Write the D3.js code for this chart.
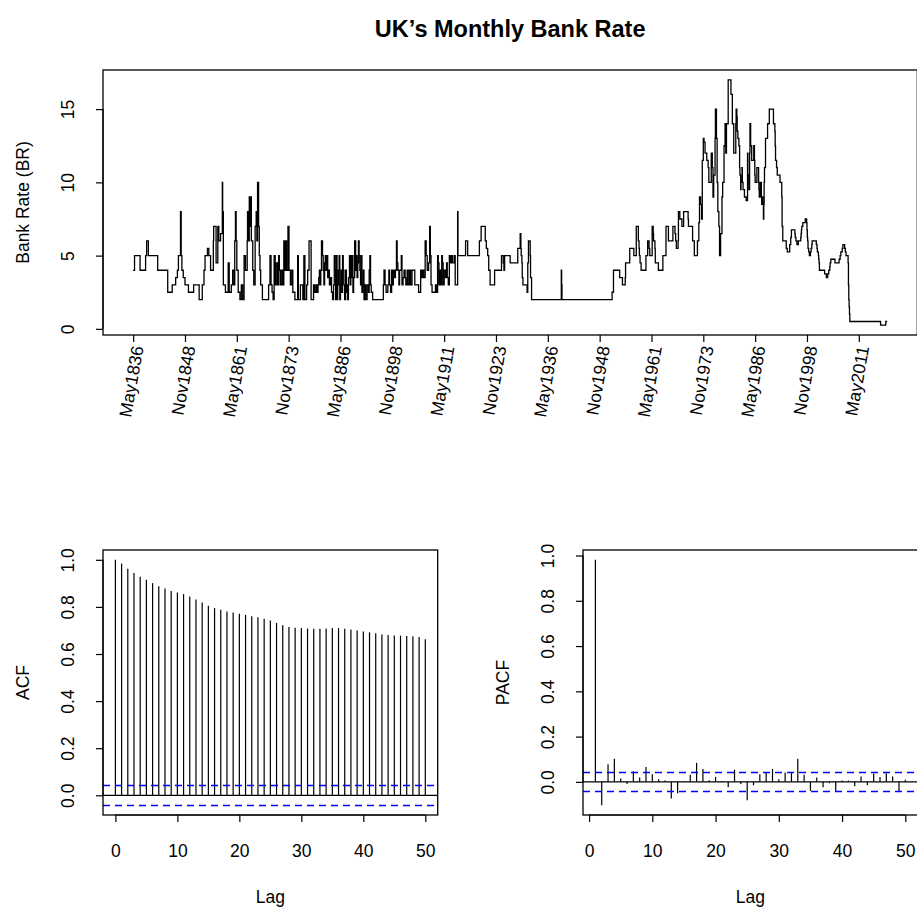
<!DOCTYPE html>
<html><head><meta charset="utf-8">
<script src="https://cdn.jsdelivr.net/npm/d3@7/dist/d3.min.js"></script>
<style>
body{margin:0;background:#fff}
svg{display:block}
text{font-family:"Liberation Sans",Arial,Helvetica,sans-serif;fill:#000}
</style></head>
<body><svg id="c" width="917" height="908"></svg>
<script>
// ---------------- data ----------------
const seriesStart = "1836-05";
const seriesEnd = "2018-03";
// bank-rate change points [month, rate %]
const rates1836to1878 = [
["1836-05",4],["1836-09",5],["1838-01",4],["1839-05",5],["1839-08",6],["1840-01",5],["1842-04",4],["1844-09",2.5],
["1845-10",3],["1846-08",3.5],["1847-01",4],["1847-04",5],["1847-10",8],["1847-12",5],["1848-02",4],["1848-06",3.5],
["1848-11",3],["1849-09",2.5],["1850-12",3],["1852-04",2],["1853-01",3],["1853-06",4],["1853-09",5],["1854-04",5.5],
["1854-08",5],["1855-01",4],["1855-09",6],["1855-10",7],["1856-05",4.5],["1856-10",7],["1857-01",6],["1857-06",6.5],
["1857-11",10],["1857-12",8],["1858-02",3],["1858-08",2.5],["1859-04",4.5],["1859-07",2.5],["1860-01",3],["1860-05",4],
["1860-09",3],["1860-11",6],["1861-01",8],["1861-03",6],["1861-05",4],["1861-09",2.5],["1862-02",2],["1862-06",3],
["1862-10",2],["1863-02",5],["1863-06",4],["1863-11",6],["1863-12",8],["1864-02",6],["1864-05",9],["1864-07",7],
["1864-09",9],["1864-11",6],["1865-03",4],["1865-06",3],["1865-10",7],["1866-01",8],["1866-03",6],["1866-05",10],
["1866-08",7],["1866-10",5],["1866-12",4],["1867-02",3],["1867-07",2],["1869-01",3],["1869-05",5],["1869-08",3],
["1869-11",2.5],["1870-02",2],["1870-05",5],["1870-08",3],["1870-11",4.5],["1871-03",3],["1871-06",5],["1871-08",4],
["1871-11",3],["1872-03",4],["1872-06",3],["1872-09",6],["1872-11",4],["1873-02",6],["1873-05",4],["1873-09",7],
["1873-12",4],["1874-04",3],["1874-08",4],["1874-11",2.5],["1875-05",2],["1876-01",5],["1876-03",2],["1876-09",3],
["1877-04",2],["1877-07",5],["1877-10",2],["1878-03",3],["1878-06",4],["1878-10",6]];
const rates1879to1932 = [
["1879-04",2],["1879-11",3],["1880-02",2.5],["1880-06",3],["1880-09",2.5],["1880-12",3],["1881-02",3.5],["1881-04",4],
["1881-06",3],["1881-08",4],["1881-10",6],["1882-01",5],["1882-03",4],["1882-05",3],["1882-07",4.5],["1882-09",5],
["1882-11",4],["1883-02",5],["1883-04",3.5],["1883-07",4],["1883-09",3],["1883-12",3.5],["1884-03",2.5],["1884-06",2],
["1884-09",3],["1884-11",5],["1885-01",4],["1885-03",2],["1885-05",5],["1885-07",2],["1885-09",3],["1885-11",4],
["1886-01",5],["1886-03",2],["1886-05",3],["1886-07",4],["1886-09",2.5],["1886-11",5],["1887-01",4],["1887-03",3],
["1887-05",2],["1887-08",4],["1887-10",2.5],["1887-12",3],["1888-02",2],["1888-04",3.5],["1888-07",5],["1888-09",3],
["1888-11",5],["1889-01",3.5],["1889-03",5],["1889-05",2.5],["1889-07",3.5],["1889-10",6],["1890-01",4],["1890-03",5],
["1890-05",3.5],["1890-07",4.5],["1890-09",6],["1890-11",5],["1891-01",4],["1891-03",3],["1891-05",5],["1891-07",2.5],
["1891-09",3],["1891-11",4],["1892-01",2],["1892-04",3],["1892-06",2],["1892-10",3],["1893-02",2.5],["1893-04",4],
["1893-06",5],["1893-08",3],["1893-10",2.5],["1894-02",2],["1896-09",3],["1896-11",4],["1897-02",3],["1897-05",2.5],
["1897-10",3],["1898-01",4],["1898-03",3],["1898-06",2.5],["1898-09",4],["1898-11",3],["1899-02",4],["1899-05",3.5],
["1899-08",4],["1899-11",6],["1900-01",4.5],["1900-03",4],["1900-06",3],["1900-08",4],["1901-01",5],["1901-03",3],
["1901-06",3.5],["1901-09",4],["1901-12",3.5],["1902-02",3],["1902-06",4],["1902-09",3],["1903-01",4],["1903-04",3],
["1903-08",4],["1904-04",3],["1905-03",2.5],["1905-09",4],["1905-12",3.5],["1906-03",4],["1906-06",3.5],["1906-10",6],
["1907-01",5],["1907-04",4],["1907-08",4.5],["1907-11",7],["1908-01",5],["1908-03",3],["1908-06",2.5],["1909-04",3],
["1909-07",2.5],["1909-10",5],["1909-12",4.5],["1910-02",3],["1910-05",4],["1910-07",3],["1910-10",5],["1910-12",4.5],
["1911-02",3],["1911-05",4],["1911-09",3.5],["1911-12",4.5],["1912-02",3.5],["1912-05",3],["1912-08",5],["1912-11",4.5],
["1913-02",5],["1913-05",4.5],["1913-10",5],["1914-01",3],["1914-08",8],["1914-09",5],["1916-07",6],["1917-01",5],
["1919-11",6],["1920-04",7],["1921-04",6],["1921-07",5.5],["1921-11",5],["1922-02",4],["1922-06",3],["1923-07",4],
["1925-03",5],["1925-08",4.5],["1925-10",4],["1925-12",5],["1927-04",4.5],["1929-02",5.5],["1929-09",6.5],["1929-11",5.5],
["1929-12",5],["1930-02",4.5],["1930-03",3.5],["1930-05",3],["1931-05",2.5],["1931-07",4.5],["1931-09",6],["1932-02",5],
["1932-03",3.5],["1932-06",2]];
const rates1939to1972 = [
["1939-08",4],["1939-09",3],["1939-10",2],["1951-11",2.5],["1952-03",4],["1953-09",3.5],["1954-05",3],["1955-01",3.5],
["1955-02",4.5],["1956-02",5.5],["1957-02",5],["1957-09",7],["1958-03",6],["1958-05",5.5],["1958-06",5],["1958-08",4.5],
["1958-11",4],["1960-01",5],["1960-06",6],["1960-10",5.5],["1960-12",5],["1961-07",7],["1961-10",6.5],["1961-11",6],
["1962-03",5.5],["1962-04",4.5],["1963-01",4],["1964-02",5],["1964-11",7],["1965-06",6],["1966-07",7],["1967-01",6.5],
["1967-03",6],["1967-05",5.5],["1967-10",6],["1967-11",8],["1968-03",7.5],["1968-09",7],["1969-02",8],["1970-03",7.5],
["1970-04",7],["1971-04",6],["1971-09",5],["1972-06",6]];
const rates1972to2017 = [
["1972-10",7.25],["1972-12",9],["1973-03",8.5],["1973-06",7.5],["1973-08",11.5],["1973-11",13],["1974-01",12.75],["1974-04",12],
["1974-09",11.5],["1975-01",11],["1975-03",10],["1975-10",12],["1976-01",11],["1976-03",9],["1976-05",10.5],["1976-09",13],
["1976-10",15],["1977-01",13],["1977-03",10],["1977-05",8],["1977-08",7],["1977-10",5],["1978-01",6.5],["1978-05",9],
["1978-07",10],["1978-11",12.5],["1979-02",14],["1979-04",12],["1979-06",14],["1979-11",17],["1980-07",16],["1980-11",14],
["1981-03",12],["1981-09",14],["1981-10",15],["1981-12",14.5],["1982-01",13.5],["1982-03",13],["1982-06",12.5],["1982-08",11],
["1982-09",10.5],["1982-11",9.5],["1982-12",10],["1983-03",11],["1983-04",10],["1983-06",9.5],["1983-10",9],["1984-03",8.75],
["1984-07",12],["1984-08",10.5],["1984-11",9.5],["1985-01",12],["1985-02",14],["1985-04",12.5],["1985-07",11.5],["1986-01",12.5],
["1986-03",11.5],["1986-04",10.5],["1986-05",10],["1986-10",11],["1987-03",10],["1987-04",9.5],["1987-05",9],["1987-08",10],
["1987-11",9],["1987-12",8.5],["1988-02",9],["1988-03",8.5],["1988-05",7.5],["1988-06",8.5],["1988-07",10],["1988-08",11],
["1988-11",13],["1989-05",14],["1989-10",15],["1990-10",14],["1991-02",13.5],["1991-03",12.5],["1991-04",11.5],["1991-07",11],
["1991-09",10.5],["1992-05",10],["1992-10",9],["1992-11",7],["1993-01",6],["1993-11",5.5],["1994-02",5.25],["1994-09",5.75],
["1994-12",6.25],["1995-02",6.75],["1995-12",6.5],["1996-01",6.25],["1996-03",6],["1996-06",5.75],["1996-10",6],["1997-05",6.25],
["1997-06",6.5],["1997-07",6.75],["1997-08",7],["1997-11",7.25],["1998-06",7.5],["1998-10",7.25],["1998-11",6.75],["1998-12",6.25],
["1999-01",6],["1999-02",5.5],["1999-04",5.25],["1999-06",5],["1999-09",5.25],["1999-11",5.5],["2000-01",5.75],["2000-02",6],
["2001-02",5.75],["2001-04",5.5],["2001-05",5.25],["2001-08",5],["2001-09",4.75],["2001-10",4.5],["2001-11",4],["2003-02",3.75],
["2003-07",3.5],["2003-11",3.75],["2004-02",4],["2004-05",4.25],["2004-06",4.5],["2004-08",4.75],["2005-08",4.5],["2006-08",4.75],
["2006-11",5],["2007-01",5.25],["2007-05",5.5],["2007-07",5.75],["2007-12",5.5],["2008-02",5.25],["2008-04",5],["2008-10",4.5],
["2008-11",3],["2008-12",2],["2009-01",1.5],["2009-02",1],["2009-03",0.5],["2016-08",0.25],["2017-11",0.5]];

const tickLabels = ["May1836","Nov1848","May1861","Nov1873","May1886","Nov1898","May1911",
  "Nov1923","May1936","Nov1948","May1961","Nov1973","May1986","Nov1998","May2011"];
const tickEvery = 150;
const rateTicks = [0,5,10,15];

const acfValues = [1.000,0.984,0.962,0.944,0.928,0.915,0.901,0.888,0.878,0.868,
  0.861,0.854,0.844,0.831,0.819,0.805,0.795,0.788,0.781,0.776,
  0.771,0.766,0.760,0.756,0.750,0.742,0.732,0.722,0.715,0.712,
  0.710,0.708,0.707,0.707,0.708,0.710,0.710,0.707,0.704,0.700,
  0.696,0.692,0.688,0.683,0.681,0.679,0.678,0.676,0.675,0.672,0.663];
const pacfValues = [0.981,-0.103,0.078,0.102,0.015,-0.009,0.047,0.019,0.066,0.034,
  0.012,0.006,-0.074,-0.050,0.003,0.032,0.084,0.057,0.007,0.022,
  0.004,-0.024,0.054,-0.009,-0.081,-0.015,0.034,0.043,0.057,0.012,
  0.041,0.043,0.102,0.032,-0.040,0.019,-0.024,-0.006,-0.043,0.006,
  0.006,-0.019,0.024,-0.015,0.037,0.022,0.038,0.024,-0.040,0.009];
const confLimit = 0.042;
const corrTicksX = [0,10,20,30,40,50];
const corrTicksY = [0,0.2,0.4,0.6,0.8,1.0];

// ---------------- drawing ----------------
const svg = d3.select("#c");
const FS = 17.5;
function pad4(ext){const r=ext[1]-ext[0];return [ext[0]-0.04*r, ext[1]+0.04*r];}
function mIdx(s){const [y,m]=s.split("-").map(Number);const [y0,m0]=seriesStart.split("-").map(Number);return (y-y0)*12+(m-m0);}

function frame(b){
  svg.append("rect").attr("x",b.l).attr("y",b.t).attr("width",b.r-b.l).attr("height",b.b-b.t)
    .attr("fill","none").attr("stroke","#000").attr("stroke-width",1.3);
}
function yAxis(b, y, ticks, fmt){
  const g = svg.append("g").attr("transform",`translate(${b.l},0)`)
    .call(d3.axisLeft(y).tickValues(ticks).tickSize(7).tickSizeOuter(0).tickFormat(fmt));
  g.select(".domain").remove();
  g.attr("font-family",null).attr("font-size",null);
  g.selectAll(".tick line").attr("stroke","#000").attr("stroke-width",1.2);
  g.selectAll(".tick text").attr("x",0).attr("y",-29).attr("dy",null)
    .attr("transform","rotate(-90)").attr("text-anchor","middle")
    .style("font-size",FS+"px");
  g.append("line").attr("x1",0).attr("x2",0).attr("y1",y(ticks[0])).attr("y2",y(ticks[ticks.length-1]))
    .attr("stroke","#000").attr("stroke-width",1.2);
}
function yTitle(b, txt, off){
  svg.append("text").attr("transform",`translate(${b.l-off},${(b.t+b.b)/2}) rotate(-90)`)
    .attr("text-anchor","middle").style("font-size",FS+"px").text(txt);
}

// ---- top panel ----
const changes = [...rates1836to1878, ...rates1879to1932, ...rates1939to1972, ...rates1972to2017];
const rateValues = changes.map(d=>d[1]);
const pts = changes.map(d=>[mIdx(d[0]), d[1]]);
const lastIdx = mIdx(seriesEnd);
pts.push([lastIdx, rateValues[rateValues.length-1]]);
const P1 = {l:103, r:917.3, t:70, b:335};
const x1 = d3.scaleLinear().domain(pad4([0,lastIdx])).range([P1.l,P1.r]);
const y1 = d3.scaleLinear().domain(pad4(d3.extent(rateValues))).range([P1.b,P1.t]);

svg.append("path").datum(pts)
  .attr("d", d3.line().x(d=>x1(d[0])).y(d=>y1(d[1])).curve(d3.curveStepAfter))
  .attr("fill","none").attr("stroke","#000").attr("stroke-width",1.3).attr("stroke-linejoin","miter");
frame(P1);
yAxis(P1, y1, rateTicks, d3.format("d"));
yTitle(P1, "Bank Rate (BR)", 74);

const xt = d3.range(0, lastIdx+1, tickEvery).slice(0, tickLabels.length);
const gx1 = svg.append("g").attr("transform",`translate(0,${P1.b})`)
  .call(d3.axisBottom(x1).tickValues(xt).tickSize(7).tickSizeOuter(0).tickFormat((d,i)=>tickLabels[i]));
gx1.select(".domain").remove();
gx1.attr("font-family",null).attr("font-size",null);
gx1.selectAll(".tick line").attr("stroke","#000").attr("stroke-width",1.2);
gx1.selectAll(".tick text").attr("x",0).attr("y",0).attr("dy",null)
  .attr("text-anchor","end").attr("dominant-baseline","central")
  .attr("transform","translate(4,11) rotate(-80)")
  .style("font-size",FS+"px");

svg.append("text").attr("x",(P1.l+P1.r)/2).attr("y",37).attr("text-anchor","middle")
  .style("font-size","23.5px").style("font-weight","bold").text("UK\u2019s Monthly Bank Rate");

// ---- correlogram panels ----
function corrPanel(b, lags, vals, title){
  const x = d3.scaleLinear().domain(pad4(d3.extent(lags))).range([b.l,b.r]);
  const lo = Math.min(d3.min(vals), -confLimit), hi = Math.max(d3.max(vals), confLimit);
  const y = d3.scaleLinear().domain(pad4([lo,hi])).range([b.b,b.t]);
  const g = svg.append("g");
  g.append("line").attr("x1",b.l).attr("x2",b.r).attr("y1",y(0)).attr("y2",y(0))
    .attr("stroke","#000").attr("stroke-width",1.3);
  g.selectAll("line.stem").data(lags).join("line").attr("class","stem")
    .attr("x1",d=>x(d)).attr("x2",d=>x(d)).attr("y1",y(0)).attr("y2",(d,i)=>y(vals[i]))
    .attr("stroke","#000").attr("stroke-width",1.2);
  [confLimit,-confLimit].forEach(c=>{
    g.append("line").attr("x1",b.l).attr("x2",b.r).attr("y1",Math.round(y(c))+0.5).attr("y2",Math.round(y(c))+0.5)
      .attr("stroke","#0000ff").attr("stroke-width",1.4).attr("stroke-dasharray","7,5");
  });
  frame(b);
  yAxis(b, y, corrTicksY, d3.format(".1f"));
  yTitle(b, title, 74);
  const gx = svg.append("g").attr("transform",`translate(0,${b.b})`)
    .call(d3.axisBottom(x).tickValues(corrTicksX).tickSize(7).tickSizeOuter(0).tickFormat(d3.format("d")));
  gx.select(".domain").remove();
  gx.attr("font-family",null).attr("font-size",null);
  gx.selectAll(".tick line").attr("stroke","#000").attr("stroke-width",1.2);
  gx.selectAll(".tick text").attr("y",42).attr("dy",null).style("font-size",FS+"px");
  gx.append("line").attr("x1",x(corrTicksX[0])).attr("x2",x(corrTicksX[corrTicksX.length-1]))
    .attr("y1",0).attr("y2",0).attr("stroke","#000").attr("stroke-width",1.2);
  svg.append("text").attr("x",(b.l+b.r)/2).attr("y",b.b+88).attr("text-anchor","middle")
    .style("font-size",FS+"px").text("Lag");
}
corrPanel({l:103, r:437.7, t:550, b:815}, d3.range(0, acfValues.length), acfValues, "ACF");
corrPanel({l:583, r:917.7, t:550, b:815}, d3.range(1, pacfValues.length+1), pacfValues, "PACF");
</script></body></html>
